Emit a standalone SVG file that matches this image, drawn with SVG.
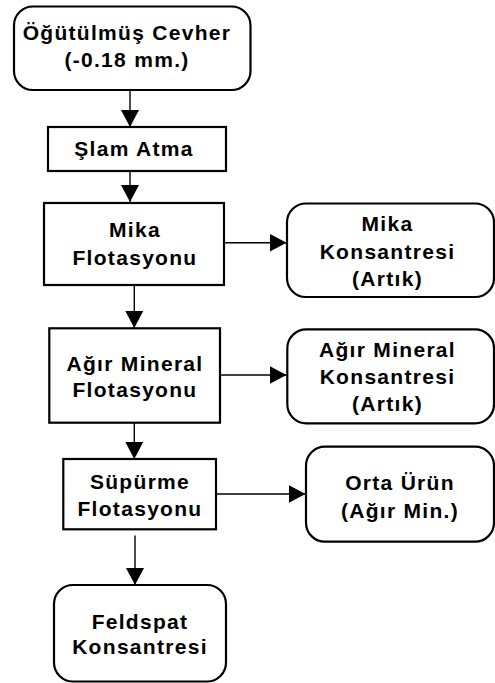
<svg xmlns="http://www.w3.org/2000/svg" width="495" height="683" viewBox="0 0 495 683">
<defs>
<marker id="ah" markerUnits="userSpaceOnUse" markerWidth="18" markerHeight="18" refX="17" refY="9" orient="auto" viewBox="0 0 18 18">
<path d="M0,0 L17,9 L0,18 z" fill="#000"/>
</marker>
<style>
.box{fill:#fff;stroke:#000;stroke-width:2.2}
.lbl{font-family:"Liberation Sans",Arial,Helvetica,sans-serif;font-weight:bold;font-size:21px;letter-spacing:1.3px;fill:#000;text-anchor:middle}
.con{stroke:#000;stroke-width:1.4;fill:none;marker-end:url(#ah)}
</style>
</defs>
<rect width="495" height="683" fill="#fff"/>
<g id="connectors">
<line class="con" x1="130" y1="90" x2="130" y2="127"/>
<line class="con" x1="130" y1="171" x2="130" y2="202"/>
<line class="con" x1="224" y1="242.7" x2="286.5" y2="242.7"/>
<line class="con" x1="134.3" y1="285" x2="134.3" y2="328"/>
<line class="con" x1="220" y1="375" x2="286.5" y2="375"/>
<line class="con" x1="134.3" y1="423" x2="134.3" y2="459"/>
<line class="con" x1="216" y1="494" x2="305.5" y2="494"/>
<line class="con" x1="135" y1="535.5" x2="135" y2="585"/>
</g>
<g id="n-cevher">
<rect class="box" x="14" y="6.5" width="236.5" height="83.5" rx="19"/>
<text class="lbl" x="127" y="40">Öğütülmüş Cevher</text>
<text class="lbl" x="127" y="67">(-0.18 mm.)</text>
</g>
<g id="n-slam">
<rect class="box" x="48" y="127" width="178" height="44"/>
<text class="lbl" x="134" y="156">Şlam Atma</text>
</g>
<g id="n-mika">
<rect class="box" x="44" y="203" width="180" height="82"/>
<text class="lbl" x="135" y="237">Mika</text>
<text class="lbl" x="135" y="264.5">Flotasyonu</text>
</g>
<g id="n-mika-k">
<rect class="box" x="287" y="203.5" width="207" height="93.5" rx="19"/>
<text class="lbl" x="387.5" y="231">Mika</text>
<text class="lbl" x="387.5" y="258.5">Konsantresi</text>
<text class="lbl" x="387.5" y="286">(Artık)</text>
</g>
<g id="n-agir">
<rect class="box" x="49.3" y="328.3" width="170.7" height="94.4"/>
<text class="lbl" x="135" y="370.5">Ağır Mineral</text>
<text class="lbl" x="135" y="397">Flotasyonu</text>
</g>
<g id="n-agir-k">
<rect class="box" x="287.3" y="329.3" width="206.7" height="94" rx="19"/>
<text class="lbl" x="387.5" y="357">Ağır Mineral</text>
<text class="lbl" x="387.5" y="383.5">Konsantresi</text>
<text class="lbl" x="387.5" y="410.5">(Artık)</text>
</g>
<g id="n-supurme">
<rect class="box" x="63.3" y="459" width="152.7" height="70.3"/>
<text class="lbl" x="140" y="488.5">Süpürme</text>
<text class="lbl" x="140" y="516">Flotasyonu</text>
</g>
<g id="n-orta">
<rect class="box" x="306" y="446.7" width="188" height="95" rx="19"/>
<text class="lbl" x="400" y="489.5">Orta Ürün</text>
<text class="lbl" x="400" y="517.5">(Ağır Min.)</text>
</g>
<g id="n-feldspat">
<rect class="box" x="54" y="585" width="172" height="96.5" rx="19"/>
<text class="lbl" x="140" y="628.5">Feldspat</text>
<text class="lbl" x="140" y="653.5">Konsantresi</text>
</g>
</svg>
